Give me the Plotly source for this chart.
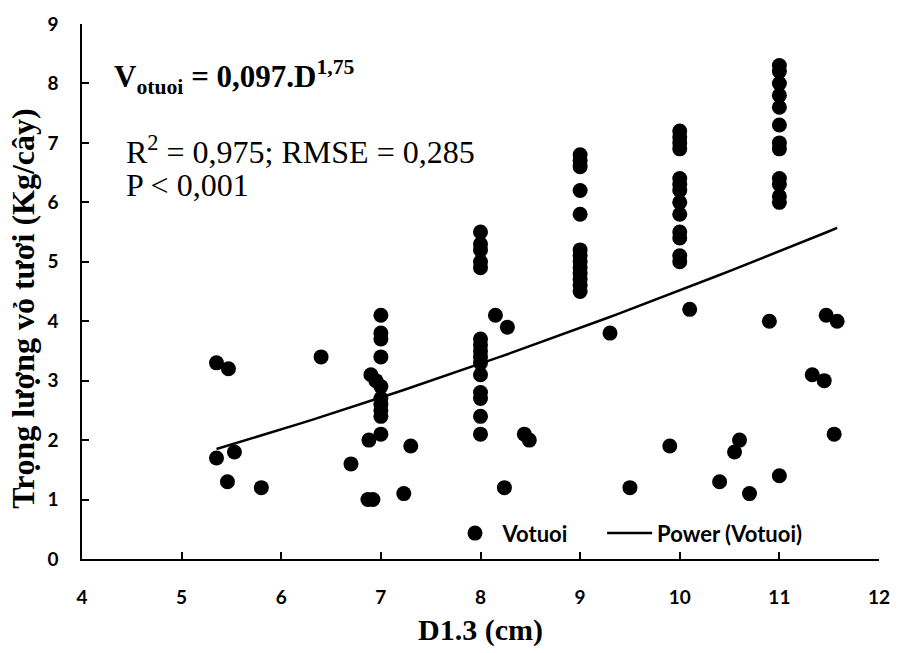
import numpy as np
import plotly.graph_objects as go

# D1.3 (cm) and fresh bark weight (kg/tree)
d13 = [5.35, 5.47, 6.40, 5.35, 5.53, 5.46, 5.80,
       7.00, 7.00, 7.00, 7.00, 6.90, 6.95, 7.00, 7.00, 7.00, 7.00, 7.00, 7.00, 6.88, 7.30, 6.70, 6.87, 6.92, 7.23,
       8.00, 8.00, 8.00, 8.00, 8.00, 8.15, 8.27, 8.00, 8.00, 8.00, 8.00, 8.00, 8.00, 8.00, 8.00, 8.00, 8.00, 8.44, 8.49, 8.24,
       9.00, 9.00, 9.00, 9.00, 9.00, 9.00, 9.00, 9.00, 9.00, 9.00, 9.00, 9.00, 9.00, 9.30, 9.50, 9.90,
       10.0, 10.0, 10.0, 10.0, 10.0, 10.0, 10.0, 10.0, 10.0, 10.0, 10.0, 10.0, 10.0, 10.1, 10.4, 10.55, 10.6, 10.7, 10.9,
       11.0, 11.0, 11.0, 11.0, 11.0, 11.0, 11.0, 11.0, 11.0, 11.0, 11.0, 11.0, 11.0, 11.33, 11.45, 11.47, 11.58, 11.55]
votuoi = [3.3, 3.2, 3.4, 1.7, 1.8, 1.3, 1.2,
          4.1, 3.8, 3.7, 3.4, 3.1, 3.0, 2.9, 2.7, 2.6, 2.5, 2.4, 2.1, 2.0, 1.9, 1.6, 1.0, 1.0, 1.1,
          5.5, 5.3, 5.2, 5.0, 4.9, 4.1, 3.9, 3.7, 3.6, 3.5, 3.4, 3.3, 3.1, 2.8, 2.7, 2.4, 2.1, 2.1, 2.0, 1.2,
          6.8, 6.7, 6.6, 6.2, 5.8, 5.2, 5.1, 5.0, 4.9, 4.8, 4.7, 4.6, 4.5, 3.8, 1.2, 1.9,
          7.2, 7.1, 7.0, 6.9, 6.4, 6.3, 6.2, 6.0, 5.8, 5.5, 5.4, 5.1, 5.0, 4.2, 1.3, 1.8, 2.0, 1.1, 4.0,
          8.3, 8.2, 8.0, 7.8, 7.6, 7.3, 7.0, 6.9, 6.4, 6.3, 6.1, 6.0, 1.4, 3.1, 3.0, 4.1, 4.0, 2.1]

x_ticks = [4, 5, 6, 7, 8, 9, 10, 11, 12]
y_ticks = [0, 1, 2, 3, 4, 5, 6, 7, 8, 9]

# Power trendline y = a * x^b, coefficients
trend_a = 0.169
trend_b = 1.427

xa = np.array(d13)
xs = np.linspace(xa.min(), xa.max(), 60)
ys = trend_a * xs ** trend_b

fig = go.Figure()
fig.add_trace(go.Scatter(x=d13, y=votuoi, mode="markers", name="Votuoi",
                         marker=dict(color="black", size=15), legend="legend"))
fig.add_trace(go.Scatter(x=xs, y=ys, mode="lines", name="Power (Votuoi)",
                         line=dict(color="black", width=2.5), legend="legend2"))

tickfont = dict(family="Lato", size=19, color="black", weight="bold")
legfont = dict(family="Lato", size=22, color="black", weight="bold")
fig.update_layout(
    width=902, height=653,
    margin=dict(l=82, r=14, t=20, b=89),
    paper_bgcolor="white", plot_bgcolor="white",
    showlegend=True,
    legend=dict(x=0.4586, y=0.048, xanchor="left", yanchor="middle", font=legfont,
                itemwidth=45, bgcolor="rgba(0,0,0,0)"),
    legend2=dict(x=0.6526, y=0.048, xanchor="left", yanchor="middle", font=legfont,
                 itemwidth=45, bgcolor="rgba(0,0,0,0)"),
    xaxis=dict(range=[4, 12], tickvals=x_ticks, ticks="inside", ticklen=7, tickwidth=1.5,
               tickcolor="black", showline=True, linecolor="black", linewidth=1.5,
               showgrid=False, zeroline=False, tickfont=tickfont, ticklabelstandoff=20,
               title=dict(text="<b>D1.3 (cm)</b>", font=dict(family="Liberation Serif", size=30, color="black"),
                          standoff=12)),
    yaxis=dict(range=[0, 9], tickvals=y_ticks, ticks="inside", ticklen=7, tickwidth=1.5,
               tickcolor="black", showline=True, linecolor="black", linewidth=1.5,
               showgrid=False, zeroline=False, tickfont=tickfont, ticklabelstandoff=18),
)

fig.add_annotation(xref="paper", yref="paper", x=-0.074, y=0.468, xanchor="center", yanchor="middle",
                   text="<b>Trọng lượng vỏ tươi (Kg/cây)</b>", textangle=-90, showarrow=False,
                   font=dict(family="Liberation Serif", size=32, color="black"))
fig.add_annotation(xref="paper", yref="paper", x=0.038, y=0.9, xanchor="left", yanchor="middle",
                   text="<b>V<sub>otuoi</sub> = 0,097.D<sup>1,75</sup></b>", showarrow=False,
                   font=dict(family="Liberation Serif", size=31, color="black"))
fig.add_annotation(xref="paper", yref="paper", x=0.053, y=0.765, xanchor="left", yanchor="middle",
                   text="R<sup>2</sup> = 0,975; RMSE = 0,285", showarrow=False,
                   font=dict(family="Liberation Serif", size=32, color="black"))
fig.add_annotation(xref="paper", yref="paper", x=0.053, y=0.699, xanchor="left", yanchor="middle",
                   text="P < 0,001", showarrow=False,
                   font=dict(family="Liberation Serif", size=32, color="black"))

fig.write_html("out.html", config={"displayModeBar": False},
               post_script="document.body.style.margin='0';document.body.style.overflow='hidden';")
